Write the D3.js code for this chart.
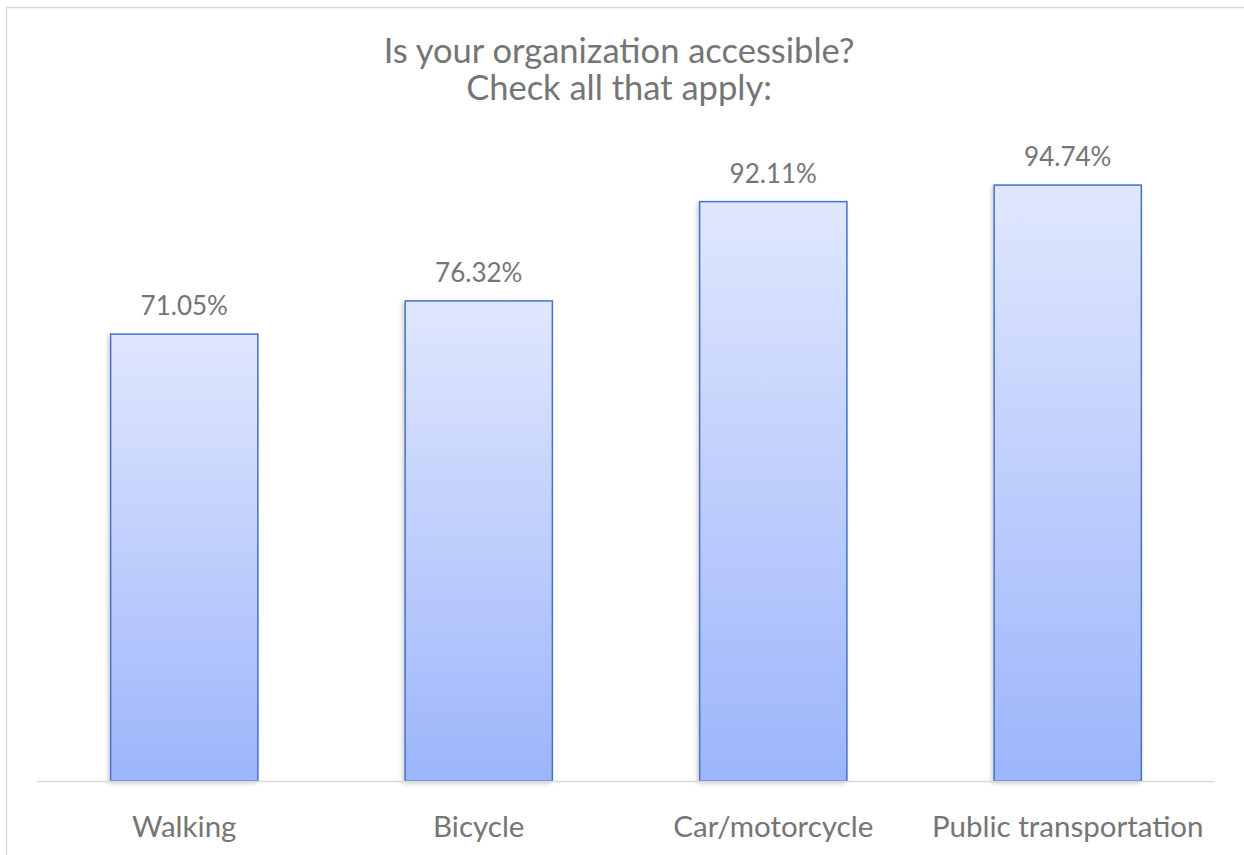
<!DOCTYPE html>
<html><head><meta charset="utf-8">
<script src="https://cdn.jsdelivr.net/npm/d3@7"></script>
<style>body{margin:0;background:#fff}svg{display:block}text{font-family:Lato,"Open Sans",sans-serif}</style>
</head><body>
<svg id="c" width="1244" height="855"></svg>
<script>
const titleLines = ["Is your organization accessible?", "Check all that apply:"];
const categories = ["Walking", "Bicycle", "Car/motorcycle", "Public transportation"];
const values = [0.7105, 0.7632, 0.9211, 0.9474];
const yDomain = [0, 1];

const svg = d3.select("#c");
const W = 1244, H = 855;
svg.append("rect").attr("width", W).attr("height", H).attr("fill", "#fff");
svg.append("path").attr("d", `M6.5,${H}V7.5H${W}`).attr("fill","none").attr("stroke","#d9d9d9").attr("stroke-width",1.5);

const defs = svg.append("defs");
const g = defs.append("linearGradient").attr("id","bg").attr("x1",0).attr("y1",0).attr("x2",0).attr("y2",1);
g.append("stop").attr("offset","0%").attr("stop-color","#e0e7fd");
g.append("stop").attr("offset","100%").attr("stop-color","#9cb5fb");
const f = defs.append("filter").attr("id","sh").attr("x","-10%").attr("y","-10%").attr("width","120%").attr("height","120%");
f.append("feDropShadow").attr("dx",-2).attr("dy",2).attr("stdDeviation",2).attr("flood-color","#000").attr("flood-opacity",0.18);

const x = d3.scaleBand().domain(categories).range([37, 1215]).paddingInner(0.5).paddingOuter(0.25);
const y = d3.scaleLinear().domain(yDomain).range([781, 152]);

svg.append("g").selectAll("text").data(titleLines).join("text")
  .attr("x", 619).attr("y", (d,i) => 63 + i*37)
  .attr("text-anchor","middle").attr("fill","#757575").attr("font-size",34.5).text(d=>d);

svg.append("g").selectAll("rect").data(values).join("rect")
  .attr("x",(d,i)=>x(categories[i])).attr("width",x.bandwidth())
  .attr("y",d=>y(d)).attr("height",d=>y(0)-y(d))
  .attr("fill","url(#bg)").attr("stroke","#4472c4").attr("stroke-width",1.5)
  .attr("filter","url(#sh)");

svg.append("line").attr("x1",37).attr("x2",1215).attr("y1",y(0)+0.5).attr("y2",y(0)+0.5)
  .attr("stroke","#d9d9d9").attr("stroke-width",1.5);

svg.append("g").selectAll("text").data(values).join("text")
  .attr("x",(d,i)=>x(categories[i])+x.bandwidth()/2).attr("y",d=>y(d)-19)
  .attr("text-anchor","middle").attr("fill","#757575").attr("font-size",26)
  .text(d=>(d*100).toFixed(2)+"%");

const xa = d3.axisBottom(x).tickSize(0).tickPadding(0);
const ax = svg.append("g").attr("transform",`translate(0,${y(0)})`).call(xa);
ax.select(".domain").remove();
ax.selectAll("text").attr("y",56).attr("dy",0).attr("fill","#757575").attr("font-size",29.5).style("font-family","Lato,'Open Sans',sans-serif");
</script>
</body></html>
